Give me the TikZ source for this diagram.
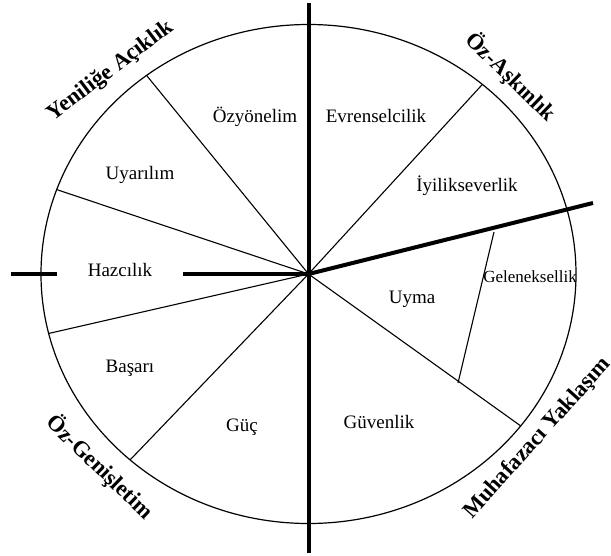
\documentclass[tikz,border=0pt]{standalone}
\usepackage{fontspec}
\setmainfont{Liberation Serif}
\begin{document}
\begin{tikzpicture}[x=1pt,y=-1pt,
  thinline/.style={line width=1.1pt},
  thickline/.style={line width=4pt},
  val/.style={inner sep=0pt, anchor=base, font=\fontsize{19}{22}\selectfont},
  smallval/.style={inner sep=0pt, anchor=base, font=\fontsize{17}{20}\selectfont},
  group/.style={inner sep=0pt, font=\fontsize{22.5}{26}\selectfont\bfseries}]
\useasboundingbox (0,0) rectangle (611,556);
\coordinate (O) at (308.5,274);
% circle
\draw[line width=1.2pt] (O) ellipse [x radius=267.5, y radius=249.5];
% rim points
\coordinate (r1) at (146.4,75.2);
\coordinate (r2) at (56.5,189.5);
\coordinate (r3) at (48.5,333.5);
\coordinate (r4) at (130,460);
\coordinate (r5) at (482.2,84.6);
\coordinate (r6) at (520.4,425.7);
\coordinate (g1) at (494,232);
\coordinate (g2) at (458,383);
% thin lines
\foreach \r in {r1,r2,r3,r4,r5,r6}{\draw[thinline] (O) -- (\r);}
\draw[thinline] (g1) -- (g2);
% thick lines
\coordinate (vt) at (309.3,3);
\coordinate (vb) at (309.3,553);
\coordinate (hl1) at (10.5,274);
\coordinate (hl2) at (57,274);
\coordinate (hm) at (183,274);
\coordinate (re) at (593,203);
\draw[thickline] (vt) -- (vb);
\draw[thickline] (hl1) -- (hl2);
\draw[thickline] (hm) -- (O);
\draw[thickline] (O) -- (re);
% value labels
\node[val] (ozy) at (255,123) {Özyönelim};
\node[val] (uya) at (140,180) {Uyarılım};
\node[val] (haz) at (120,277) {Hazcılık};
\node[val] (bas) at (130,372) {Başarı};
\node[val] (guc) at (242,431) {Güç};
\node[val] (evr) at (376,123) {Evrenselcilik};
\node[val] (iyi) at (467,192) {İyilikseverlik};
\node[smallval] (gel) at (530,283) {Geleneksellik};
\node[val] (uym) at (412,304) {Uyma};
\node[val] (guv) at (379,428) {Güvenlik};
% group labels
\node[group, rotate=37] (yen) at (111,71) {Yeniliğe Açıklık};
\node[group, rotate=-44] (oza) at (511,77) {Öz-Aşkınlık};
\node[group, rotate=-44] (ozg) at (100,467) {Öz-Genişletim};
\node[group, rotate=48] (muh) at (537.5,438.5) {Muhafazacı Yaklaşım};
\end{tikzpicture}
\end{document}
